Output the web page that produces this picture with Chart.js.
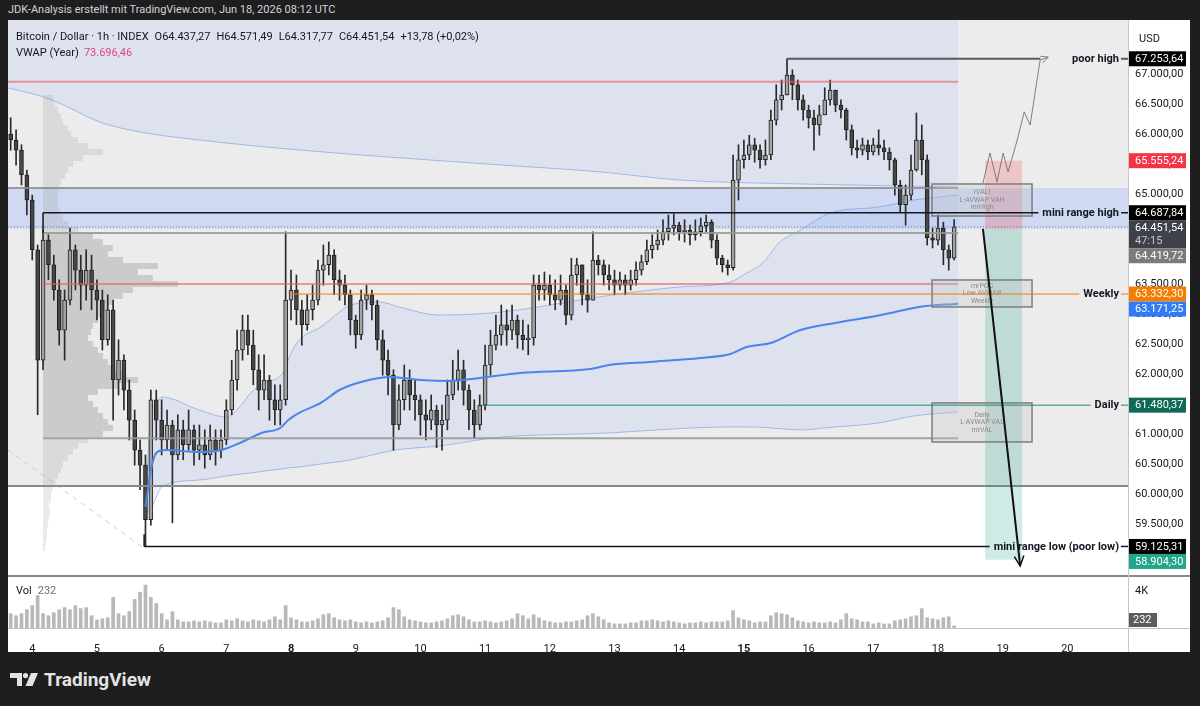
<!DOCTYPE html>
<html>
<head>
<meta charset="utf-8">
<title>BTC / USD 1h</title>
<script src="https://cdn.jsdelivr.net/npm/chart.js@4.4.1/dist/chart.umd.min.js"></script>
<style>
  html, body { margin: 0; padding: 0; }
  body { width: 1200px; height: 706px; background: #1e1e1e; position: relative; overflow: hidden; font-family: Roboto, "Liberation Sans", sans-serif; }
  #header { position: absolute; left: 8px; top: 3px; font-size: 11px; color: #d1d4dc; white-space: nowrap; }
  #panel { position: absolute; left: 8px; top: 20px; width: 1182px; height: 632px; background: #fff; }
  #brand { position: absolute; left: 10px; top: 668px; height: 22px; display: flex; align-items: center; gap: 6px; color: #e3e3e3; font-weight: bold; font-size: 19px; }
</style>
</head>
<body>
<div id="header">JDK-Analysis erstellt mit TradingView.com, Jun 18, 2026 08:12 UTC</div>
<div id="panel"><canvas id="chart" width="1182" height="632"></canvas></div>
<div id="brand">
  <svg width="28" height="13" viewBox="0 0 28 13"><path d="M0 0h12v13H7V5H0z" fill="#e3e3e3"/><circle cx="15.5" cy="2.6" r="2.6" fill="#e3e3e3"/><path d="M21 0h7l-5.5 13H15.5z" fill="#e3e3e3"/></svg>
  <span>TradingView</span>
</div>
<script>
// ---------- data ----------
const dayLabels = ['4', '5', '6', '7', '8', '9', '10', '11', '12', '13', '14', '15', '16', '17', '18', '19', '20'];
const boldDays = ['8', '15'];
const firstHour = -8;   // hours after Jun 4 00:00 of the first 2h candle
const stepHours = 2;
const firstOpen = 66000;

const closes = [
  65900, 65730, 65320, 64900, 64070, 62230, 64230, 63820, 63400, 62730,
  63230, 64070, 63730, 63480, 63730, 63400, 63230, 62570, 63070, 61900,
  62230, 61730, 61230, 60730, 60480, 59570, 61570, 61230, 60900, 61150,
  60650, 61070, 60820, 61070, 60730, 60820, 60650, 60900, 60730, 60900,
  61400, 61900, 62400, 62730, 62480, 62070, 61730, 61900, 61570, 61400,
  61570, 63230, 63400, 63070, 62820, 63070, 63230, 63730, 63820, 63980,
  63570, 63480, 63320, 62900, 62650, 63230, 63320, 63150, 62570, 62230,
  61980, 61150, 61570, 61900, 61650, 61570, 61320, 61230, 61400, 61150,
  61230, 61650, 61900, 62070, 61730, 61400, 61150, 61480, 62150, 62480,
  62650, 62820, 62730, 62900, 62650, 62570, 62600, 63480, 63400, 63480,
  63320, 63230, 63400, 62980, 63650, 63820, 63320, 63230, 63900, 63820,
  63650, 63570, 63480, 63570, 63480, 63570, 63730, 63870, 64070, 64150,
  64230, 64370, 64430, 64480, 64370, 64400, 64320, 64370, 64470, 64530,
  64230, 63930, 63820, 63770, 65230, 65570, 65650, 65820, 65730, 65570,
  65650, 66230, 66570, 66650, 66980, 66820, 66570, 66400, 66270, 66150,
  66320, 66570, 66730, 66480, 66400, 66070, 65770, 65730, 65820, 65700,
  65820, 65770, 65700, 65570, 65150, 64820, 64980, 65400, 65900, 65570,
  64270, 64230, 64430, 64070, 63930, 64451.54
];
const highs = [
  66270, 66070, 65820, 65400, 64980, 64150, 64400, 64320, 63980, 63570,
  63400, 64430, 64150, 63980, 64070, 63980, 63570, 63400, 63320, 63230,
  62570, 62320, 61900, 61400, 60900, 60650, 61730, 61730, 61570, 61400,
  61230, 61320, 61230, 61400, 61150, 61150, 61070, 61150, 61070, 61070,
  61570, 62230, 62730, 62980, 62980, 62730, 62320, 62320, 61980, 61820,
  61820, 64370, 63730, 63650, 63230, 63320, 63480, 63900, 64150, 64200,
  64070, 63730, 63650, 63400, 62980, 63400, 63480, 63400, 63230, 62730,
  62400, 62070, 61820, 62150, 62070, 61900, 61650, 61570, 61650, 61480,
  61480, 61900, 62230, 62400, 62230, 61820, 61570, 61650, 62480, 62730,
  62980, 63150, 63070, 63150, 62980, 62900, 62820, 63650, 63650, 63700,
  63650, 63570, 63650, 63480, 63930, 63930, 63820, 63570, 64370, 63980,
  63900, 63820, 63730, 63700, 63650, 63730, 63870, 63980, 64230, 64320,
  64400, 64570, 64650, 64670, 64530, 64570, 64480, 64570, 64600, 64650,
  64570, 64320, 63980, 63900, 65650, 65820, 65900, 65980, 65930, 65820,
  65900, 66400, 66820, 66900, 67253.64, 67070, 66900, 66650, 66480, 66400,
  66480, 66770, 66900, 66730, 66570, 66430, 66150, 65900, 65930, 65900,
  65930, 66070, 65900, 65770, 65600, 65230, 65150, 65650, 66350, 66150,
  65650, 64430, 64650, 64530, 64150, 64571.49
];
const lows = [
  65730, 65480, 65150, 64650, 63900, 61320, 62070, 63570, 63230, 62480,
  62230, 63150, 63400, 63070, 63230, 63070, 62900, 62400, 62480, 61230,
  61650, 61400, 60900, 60480, 60070, 59125.31, 59480, 60900, 60650, 60730,
  59520, 60570, 60570, 60730, 60480, 60570, 60430, 60570, 60480, 60600,
  60820, 61320, 61730, 62230, 62320, 61820, 61400, 61570, 61230, 61150,
  61150, 61480, 62900, 62820, 62480, 62730, 62900, 63150, 63480, 63650,
  63320, 63230, 63150, 62650, 62430, 62570, 63070, 62900, 62400, 61980,
  61650, 60730, 61070, 61400, 61400, 61230, 60980, 60900, 61070, 60770,
  60730, 61070, 61570, 61730, 61480, 61070, 60930, 61070, 61400, 61980,
  62400, 62480, 62480, 62570, 62430, 62400, 62320, 62480, 63230, 63230,
  63150, 63070, 63150, 62820, 62900, 63480, 63150, 63030, 63230, 63650,
  63480, 63400, 63320, 63400, 63320, 63400, 63480, 63650, 63820, 63930,
  64070, 64150, 64230, 64320, 64230, 64200, 64150, 64230, 64300, 64370,
  64100, 63820, 63700, 63650, 63730, 64900, 65430, 65570, 65530, 65430,
  65480, 65570, 66150, 66400, 66650, 66570, 66400, 66230, 66100, 65730,
  65980, 66320, 66480, 66370, 66270, 65900, 65650, 65600, 65650, 65570,
  65650, 65650, 65570, 65400, 64980, 64700, 64480, 64900, 65380, 65320,
  64150, 64100, 64150, 63820, 63730, 63900
];
const volumes = [
  1540, 1320, 1540, 1980, 2420, 3520, 1540, 1320, 1650, 1980,
  2200, 1980, 2420, 2090, 2200, 1320, 880, 990, 1100, 3300,
  1540, 1320, 1760, 3080, 3850, 4620, 3300, 2640, 1540, 880,
  1760, 880, 660, 660, 770, 660, 770, 660, 550, 550,
  880, 770, 990, 770, 660, 880, 770, 660, 880, 1210,
  880, 2420, 1100, 880, 660, 660, 770, 990, 1430, 1540,
  1100, 880, 770, 880, 660, 550, 660, 550, 660, 770,
  1100, 2200, 1980, 1210, 880, 770, 660, 550, 550, 660,
  770, 990, 1320, 1430, 1210, 880, 660, 660, 770, 660,
  550, 660, 770, 990, 1540, 1320, 990, 1430, 1100, 770,
  660, 550, 550, 660, 660, 770, 880, 1320, 1540, 1210,
  880, 550, 440, 440, 440, 550, 550, 770, 770, 880,
  770, 660, 770, 660, 550, 440, 550, 550, 660, 550,
  660, 660, 660, 770, 1870, 1100, 880, 770, 550, 660,
  660, 1320, 1650, 1540, 1430, 1100, 770, 660, 550, 660,
  550, 550, 660, 550, 880, 1540, 990, 880, 660, 660,
  440, 550, 440, 440, 770, 880, 990, 1210, 1320, 2090,
  1100, 990, 880, 1100, 1210, 232
];

// anchored VWAP (from the Jun 5 low) and its bands
const vwapHours = [42, 44, 46, 49, 62, 70, 77, 85, 92, 95, 99, 107, 114, 122, 133, 144, 155, 166, 181, 207, 214, 229, 248, 259, 265, 274, 285, 300, 315, 329, 343.5];
const vwapPrices = [59783, 60400, 60683, 60733, 60700, 60733, 60850, 61017, 61100, 61233, 61350, 61517, 61733, 61867, 61950, 61900, 61883, 61933, 62017, 62083, 62150, 62200, 62267, 62333, 62450, 62517, 62733, 62867, 62983, 63117, 63171.25];
const bandHours = [42, 44, 46, 48, 62, 72, 77, 81, 86, 93, 96, 99, 107, 114, 118, 129, 136, 151, 174, 203, 215, 240, 259, 265, 271, 277, 285, 296, 314, 327, 343.5];
const bandUpper = [59850, 61300, 61500, 61617, 61400, 61283, 61450, 61683, 61850, 62017, 62350, 62567, 62783, 63033, 63150, 63200, 63117, 62983, 63033, 63233, 63317, 63450, 63533, 63683, 63850, 64183, 64400, 64683, 64783, 64900, 64983];
const bandLower = [59700, 59750, 59950, 60117, 60233, 60300, 60330, 60350, 60380, 60420, 60440, 60450, 60500, 60540, 60567, 60680, 60740, 60800, 60950, 61000, 61020, 61090, 61117, 61117, 61110, 61090, 61067, 61110, 61183, 61300, 61367];
// yearly VWAP lower band (the VWAP itself, 73.696, is off the chart)
const yearHours = [-9, 3, 10, 25, 40, 62, 99, 137, 174, 211, 240, 285, 343.5];
const yearBand = [66767, 66633, 66517, 66200, 66033, 65900, 65733, 65600, 65483, 65367, 65233, 65167, 65117];

// fixed range volume profile
const profileLevels = [
  66600, 66500, 66400, 66300, 66200, 66100, 66000, 65900, 65800, 65700,
  65600, 65500, 65400, 65300, 65200, 65100, 65000, 64900, 64800, 64700,
  64600, 64500, 64400, 64300, 64200, 64100, 64000, 63900, 63800, 63700,
  63600, 63500, 63400, 63300, 63200, 63100, 63000, 62900, 62800, 62700,
  62600, 62500, 62400, 62300, 62200, 62100, 62000, 61900, 61800, 61700,
  61600, 61500, 61400, 61300, 61200, 61100, 61000, 60900, 60800, 60700,
  60600, 60500, 60400, 60300, 60200, 60100, 60000, 59900, 59800, 59700,
  59600, 59500, 59400, 59300, 59200, 59100
];
const profileVolumes = [
  10, 12, 15, 18, 20, 25, 28, 35, 45, 60,
  40, 30, 25, 22, 18, 16, 15, 14, 15, 17,
  20, 25, 35, 50, 60, 70, 65, 80, 115, 95,
  110, 135, 90, 80, 70, 65, 60, 55, 50, 48,
  45, 50, 55, 60, 65, 70, 80, 95, 75, 55,
  45, 50, 55, 60, 65, 70, 60, 45, 35, 30,
  25, 20, 18, 15, 12, 10, 8, 8, 6, 7,
  6, 5, 4, 4, 3, 2
];

// levels and drawings (prices, hours after Jun 4 00:00)
const poorHigh = 67253.64, miniRangeHigh = 64687.84, miniRangeLow = 59125.31;
const weeklyLevel = 63332.30, dailyLevel = 61480.37, vwapNow = 63171.25;
const lastPrice = 64451.54, zoneLow = 64419.72, zoneHigh = 65100;
const openLast = 64437.27, lowLast = 64317.77, changeText = '+13,78 (+0,02%)';
const yearVwap = 73696.46;
const redLevels = [66870, 63500];
const vaHigh = 64350, vaLow = 60930, grayFloor = 60133;
const shortEntry = 64419.72, shortStop = 65555.24, shortTarget = 58904.30;
const rangeStartH = 4, lowStartH = 41.5, poorHighStartH = 280, poorHighEndH = 374;
const weeklyStartH = 96, dailyStartH = 167, lastBarH = 343.5;
const positionH = [353.5, 367.2];
const boxH = [333.8, 370.9];
const boxPrices = [[65167, 64633], [63567, 63117], [61517, 60867]];
const boxTexts = [['rVAL!', 'L-AVWAP VAH', 'mrHigh'], ['mrPOC', 'Low AVWAP', 'Weekly'], ['Daily', 'L-AVWAP VAL', 'mrVAL']];
const bullPathHours = [352.7, 355.3, 357.9, 360.2, 362, 365.4, 368, 370.2, 373.9, 376.9];
const bullPathPrices = [65183, 65683, 65200, 65683, 65367, 65900, 66367, 66150, 67233, 67283];
const bearArrowHours = [352.7, 366.5];
const bearArrowPrices = [64420, 58800];
const diagHours = [-9, 40.8];
const diagPrices = [60733, 59117];

// ---------- helpers ----------
const FONT = "Roboto, 'Liberation Sans', sans-serif";
Chart.defaults.font.family = FONT;
Chart.defaults.font.size = 11;
Chart.defaults.color = '#131722';

function fmt(v) {
  const s = v.toFixed(2).split('.');
  return s[0].replace(/\B(?=(\d{3})+(?!\d))/g, '.') + ',' + s[1];
}
function hline(ctx, x1, x2, y, color, width, dash) {
  ctx.save();
  ctx.strokeStyle = color;
  ctx.lineWidth = width;
  ctx.setLineDash(dash || []);
  ctx.beginPath();
  ctx.moveTo(x1, y);
  ctx.lineTo(x2, y);
  ctx.stroke();
  ctx.restore();
}
function arrowHead(ctx, x0, y0, x1, y1, len) {
  const a = Math.atan2(y1 - y0, x1 - x0);
  ctx.beginPath();
  ctx.moveTo(x1 - len * Math.cos(a - 0.45), y1 - len * Math.sin(a - 0.45));
  ctx.lineTo(x1, y1);
  ctx.lineTo(x1 - len * Math.cos(a + 0.45), y1 - len * Math.sin(a + 0.45));
  ctx.stroke();
}
function noPad(s) {
  s.paddingTop = 0;
  s.paddingBottom = 0;
  s.paddingLeft = 0;
  s.paddingRight = 0;
}

const hours = closes.map((c, i) => firstHour + i * stepHours);
const opens = closes.map((c, i) => (i === 0 ? firstOpen : closes[i - 1]));
const pts = (xs, ys) => xs.map((x, i) => ({ x: x, y: ys[i] }));

const TAG_RIGHT = 1111;

const overlay = {
  id: 'overlay',
  beforeDatasetsDraw(chart) {
    const { ctx, scales: { x, y } } = chart;
    const px = h => x.getPixelForValue(h);
    const py = p => y.getPixelForValue(p);
    const L = x.left, R = x.right;
    ctx.save();
    ctx.fillStyle = '#ececec';
    ctx.fillRect(L, y.top, R - L, py(grayFloor) - y.top);
    ctx.fillStyle = 'rgba(120,160,255,0.25)';
    ctx.fillRect(L, py(zoneHigh), R - L, py(zoneLow) - py(zoneHigh));

    // volume profile
    const maxVol = Math.max(...profileVolumes);
    const x0 = px(rangeStartH);
    profileLevels.forEach((p, i) => {
      const top = py(p + 50), bot = py(p - 50);
      const w = px(rangeStartH + profileVolumes[i] / maxVol * 50) - x0;
      ctx.fillStyle = (p <= vaHigh && p >= vaLow) ? 'rgba(135,135,135,0.32)' : 'rgba(150,150,150,0.2)';
      ctx.fillRect(x0, top, w, bot - top);
    });

    // faded dashed diagonal
    ctx.strokeStyle = 'rgba(235,140,110,0.55)';
    ctx.lineWidth = 1;
    ctx.setLineDash([5, 5]);
    ctx.beginPath();
    ctx.moveTo(px(diagHours[0]), py(diagPrices[0]));
    ctx.lineTo(px(diagHours[1]), py(diagPrices[1]));
    ctx.stroke();
    ctx.setLineDash([]);
    ctx.restore();
  },
  afterDatasetsDraw(chart) {
    const { ctx, scales: { x, y } } = chart;
    const px = h => x.getPixelForValue(h);
    const py = p => y.getPixelForValue(p);
    const L = x.left, R = x.right;
    ctx.save();

    // horizontal levels
    hline(ctx, L, px(lastBarH), py(redLevels[0]), 'rgba(232,95,105,0.6)', 2);
    hline(ctx, px(rangeStartH), px(lastBarH), py(redLevels[1]), 'rgba(232,95,105,0.6)', 2);
    hline(ctx, L, px(lastBarH), py(zoneHigh), 'rgba(140,140,140,0.85)', 2);
    hline(ctx, px(rangeStartH), px(lastBarH), py(vaHigh), 'rgba(150,150,150,0.85)', 2);
    hline(ctx, px(rangeStartH), px(lastBarH), py(vaLow), 'rgba(150,150,150,0.85)', 2);
    hline(ctx, L, R, py(grayFloor), '#8a8a8a', 2);
    hline(ctx, L, R, py(lastPrice), 'rgba(90,100,130,0.8)', 1, [1, 2]);

    // short position tool
    const pl = px(positionH[0]), pr = px(positionH[1]);
    ctx.fillStyle = 'rgba(242,54,69,0.22)';
    ctx.fillRect(pl, py(shortStop), pr - pl, py(shortEntry) - py(shortStop));
    ctx.fillStyle = 'rgba(8,153,129,0.2)';
    ctx.fillRect(pl, py(shortEntry), pr - pl, py(shortTarget) - py(shortEntry));

    // labelled zones
    const bl = px(boxH[0]), br = px(boxH[1]);
    boxPrices.forEach((bp, i) => {
      const t = py(bp[0]), b = py(bp[1]);
      ctx.fillStyle = 'rgba(195,195,195,0.3)';
      ctx.fillRect(bl, t, br - bl, b - t);
      ctx.strokeStyle = '#7d7d7d';
      ctx.lineWidth = 1.5;
      ctx.strokeRect(bl, t, br - bl, b - t);
      ctx.fillStyle = '#8a8a8a';
      ctx.font = '7px ' + FONT;
      ctx.textAlign = 'center';
      ctx.textBaseline = 'middle';
      const cy = (t + b) / 2;
      boxTexts[i].forEach((s, k) => ctx.fillText(s, (bl + br) / 2, cy + (k - 1) * 7.5));
    });

    // tagged lines
    const tag = (text, price, startX, endX, color, width) => {
      ctx.font = 'bold 11px ' + FONT;
      const tw = ctx.measureText(text).width;
      const yy = py(price);
      hline(ctx, startX, Math.min(endX, TAG_RIGHT - tw - 4), yy, color, width);
      hline(ctx, TAG_RIGHT + 2, R, yy, color, width);
      ctx.fillStyle = '#131722';
      ctx.textAlign = 'right';
      ctx.textBaseline = 'middle';
      ctx.fillText(text, TAG_RIGHT, yy + 0.5);
    };
    tag('poor high', poorHigh, px(poorHighStartH), px(poorHighEndH), '#5a5a5a', 2);
    tag('mini range high', miniRangeHigh, px(rangeStartH), R, '#131722', 1.5);
    tag('Weekly', weeklyLevel, px(weeklyStartH), R, '#f57c00', 1);
    tag('Daily', dailyLevel, px(dailyStartH), R, '#1e8c6e', 1);
    tag('mini range low (poor low)', miniRangeLow, px(lowStartH), R, '#131722', 1.5);
    ctx.strokeStyle = '#131722';
    ctx.lineWidth = 1.5;
    ctx.beginPath();
    ctx.moveTo(px(rangeStartH), py(miniRangeHigh));
    ctx.lineTo(px(rangeStartH), py(vaHigh));
    ctx.moveTo(px(lowStartH), py(miniRangeLow));
    ctx.lineTo(px(lowStartH), py(59330));
    ctx.stroke();

    // scenario paths
    ctx.strokeStyle = 'rgba(115,115,115,0.9)';
    ctx.lineWidth = 1;
    ctx.beginPath();
    bullPathHours.forEach((h, i) => {
      const xx = px(h), yy = py(bullPathPrices[i]);
      if (i === 0) ctx.moveTo(xx, yy); else ctx.lineTo(xx, yy);
    });
    ctx.stroke();
    const n = bullPathHours.length;
    arrowHead(ctx, px(bullPathHours[n - 2]), py(bullPathPrices[n - 2]), px(bullPathHours[n - 1]), py(bullPathPrices[n - 1]), 8);

    ctx.strokeStyle = '#111';
    ctx.lineWidth = 2;
    const ax0 = px(bearArrowHours[0]), ay0 = py(bearArrowPrices[0]);
    const ax1 = px(bearArrowHours[1]), ay1 = py(bearArrowPrices[1]);
    ctx.beginPath();
    ctx.moveTo(ax0, ay0);
    ctx.lineTo(ax1, ay1);
    ctx.stroke();
    ctx.lineWidth = 1.5;
    arrowHead(ctx, ax0, ay0, ax1, ay1, 11);

    // legend
    ctx.textAlign = 'left';
    ctx.textBaseline = 'middle';
    ctx.font = '11px ' + FONT;
    const legend = ['Bitcoin / Dollar \u00b7 1h \u00b7 INDEX', 'O' + fmt(openLast), 'H' + fmt(highs[highs.length - 1]), 'L' + fmt(lowLast), 'C' + fmt(lastPrice), changeText];
    let lx = L + 8;
    ctx.fillStyle = '#131722';
    legend.forEach(s => { ctx.fillText(s, lx, y.top + 17); lx += ctx.measureText(s).width + 6; });
    ctx.fillText('VWAP (Year)', L + 8, y.top + 33);
    ctx.fillStyle = '#e0457b';
    ctx.fillText(fmt(yearVwap), L + 8 + ctx.measureText('VWAP (Year)').width + 5, y.top + 33);
    ctx.restore();
  },
  afterDraw(chart) {
    const { ctx, scales: { x, y, yVol } } = chart;
    const py = p => y.getPixelForValue(p);
    const W = chart.width;
    ctx.save();
    hline(ctx, 0, W, y.bottom, '#8a8a8a', 2);
    hline(ctx, 0, W, yVol.bottom + 0.5, '#c4c4c4', 1);
    ctx.strokeStyle = '#c8c8c8';
    ctx.lineWidth = 1;
    ctx.beginPath();
    ctx.moveTo(x.right + 0.5, 0);
    ctx.lineTo(x.right + 0.5, chart.height);
    ctx.stroke();

    // price tags on the axis
    const tags = [
      { p: poorHigh, bg: '#000000' },
      { p: shortStop, bg: '#f23645' },
      { p: miniRangeHigh, bg: '#000000' },
      { p: lastPrice, bg: '#3e4149', sub: '47:15' },
      { p: zoneLow, bg: '#7b7b7b' },
      { p: weeklyLevel, bg: '#f57c00' },
      { p: vwapNow, bg: '#2f7cf6' },
      { p: dailyLevel, bg: '#0f6b57' },
      { p: miniRangeLow, bg: '#000000' },
      { p: shortTarget, bg: '#22a68a' }
    ].map(t => Object.assign(t, { y: py(t.p) })).sort((a, b) => a.y - b.y);
    let prevBottom = -Infinity;
    ctx.font = '11px ' + FONT;
    ctx.textAlign = 'left';
    ctx.textBaseline = 'middle';
    tags.forEach(t => {
      const h = t.sub ? 28 : 15;
      let top = t.y - 7.5;
      if (top < prevBottom) top = prevBottom;
      prevBottom = top + h;
      ctx.fillStyle = t.bg;
      ctx.fillRect(x.right + 1, top, 57, h);
      ctx.fillStyle = '#ffffff';
      ctx.fillText(fmt(t.p), x.right + 7, top + 8);
      if (t.sub) { ctx.fillStyle = '#c9c9c9'; ctx.fillText(t.sub, x.right + 7, top + 21); }
    });
    ctx.fillStyle = '#131722';
    ctx.fillText('USD', x.right + 11, y.top + 19);

    // volume pane texts
    const lastVol = volumes[volumes.length - 1];
    const volTop = Math.min(yVol.getPixelForValue(lastVol), yVol.bottom - 8) - 7;
    ctx.fillStyle = '#5d5d5d';
    ctx.fillRect(x.right + 1, volTop, 28, 14);
    ctx.fillStyle = '#ffffff';
    ctx.fillText(String(lastVol), x.right + 5, volTop + 7.5);
    ctx.fillStyle = '#131722';
    ctx.fillText('Vol', x.left + 8, yVol.top + 15);
    ctx.fillStyle = '#6a6d78';
    ctx.fillText(String(lastVol), x.left + 8 + ctx.measureText('Vol').width + 6, yVol.top + 15);
    ctx.restore();
  }
};

new Chart(document.getElementById('chart'), {
  type: 'bar',
  data: {
    datasets: [
      { type: 'line', data: pts(yearHours, yearBand), borderColor: 'rgba(90,140,225,0.5)', borderWidth: 1, pointRadius: 0, cubicInterpolationMode: 'monotone', fill: 'end', backgroundColor: 'rgba(120,160,255,0.13)', order: 20 },
      { type: 'line', data: pts(bandHours, bandUpper), borderColor: 'rgba(90,140,225,0.5)', borderWidth: 1, pointRadius: 0, cubicInterpolationMode: 'monotone', fill: '+1', backgroundColor: 'rgba(120,160,255,0.13)', order: 19 },
      { type: 'line', data: pts(bandHours, bandLower), borderColor: 'rgba(90,140,225,0.5)', borderWidth: 1, pointRadius: 0, cubicInterpolationMode: 'monotone', fill: false, order: 18 },
      { data: hours.map((h, i) => ({ x: h, y: volumes[i] })), yAxisID: 'yVol', barThickness: 3, grouped: false, backgroundColor: 'rgba(125,125,125,0.55)', order: 15 },
      { data: hours.map((h, i) => ({ x: h, y: [lows[i], highs[i]] })), barThickness: 1, grouped: false, backgroundColor: '#2a2a2a', order: 12 },
      { data: hours.map((h, i) => ({ x: h, y: [opens[i], closes[i]] })), barThickness: 4, grouped: false,
        backgroundColor: closes.map((c, i) => (c >= opens[i] ? '#a3a3a3' : '#474747')),
        borderColor: '#1e1e1e', borderWidth: 1, borderSkipped: false, order: 11 },
      { type: 'line', data: pts(vwapHours, vwapPrices), borderColor: '#4a86e8', borderWidth: 2, pointRadius: 0, cubicInterpolationMode: 'monotone', fill: false, order: 5 }
    ]
  },
  options: {
    responsive: false,
    animation: false,
    layout: { padding: 0 },
    plugins: { legend: { display: false }, tooltip: { enabled: false } },
    scales: {
      x: {
        type: 'linear', min: -9, max: 406.5, offset: false,
        grid: { display: false }, border: { display: false },
        afterBuildTicks: s => { s.ticks = dayLabels.map((d, i) => ({ value: i * 24 })); },
        afterFit: s => { s.height = 24; noPad(s); },
        ticks: {
          autoSkip: false, maxRotation: 0, padding: 7,
          callback: (v, i) => dayLabels[i],
          font: c => ({ size: 11, family: FONT, weight: (c.tick && boldDays.includes(dayLabels[Math.round(c.tick.value / 24)])) ? 'bold' : 'normal' })
        }
      },
      y: {
        type: 'linear', position: 'right', stack: 'panes', stackWeight: 556,
        min: 58633, max: 67900,
        grid: { display: false, drawTicks: false }, border: { display: false },
        afterBuildTicks: s => { const t = []; for (let v = 59500; v <= 67000; v += 500) t.push({ value: v }); s.ticks = t; },
        afterFit: s => { s.width = 62; noPad(s); },
        ticks: { padding: 7, callback: v => fmt(v) }
      },
      yVol: {
        type: 'linear', position: 'right', stack: 'panes', stackWeight: 52,
        min: 0, max: 5600,
        grid: { display: false, drawTicks: false }, border: { display: false },
        afterBuildTicks: s => { s.ticks = [{ value: 4000 }]; },
        afterFit: s => { s.width = 62; noPad(s); },
        ticks: { padding: 7, callback: () => '4K' }
      }
    }
  },
  plugins: [overlay]
});
</script>
</body>
</html>
